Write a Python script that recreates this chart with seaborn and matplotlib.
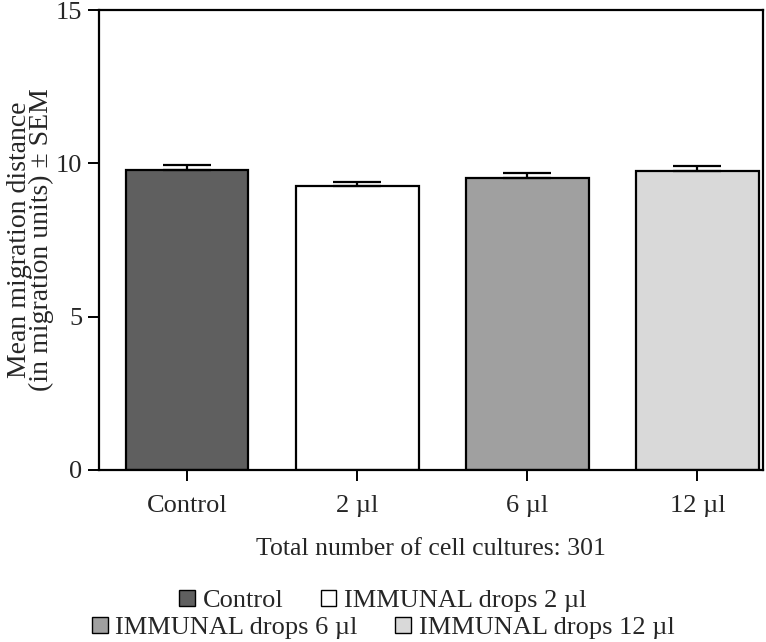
import numpy as np
import pandas as pd
import seaborn as sns
import matplotlib.pyplot as plt
from matplotlib.patches import Patch

# Данные
groups = ['Control', '2 µl', '6 µl', '12 µl']
means = [9.80, 9.25, 9.52, 9.76]
sems = [0.15, 0.14, 0.16, 0.16]
colors = ['#5f5f5f', '#ffffff', '#a0a0a0', '#d9d9d9']
legend_labels = ['Control', 'IMMUNAL drops 2 µl',
                 'IMMUNAL drops 6 µl', 'IMMUNAL drops 12 µl']

df = pd.DataFrame({'group': groups, 'mean': means, 'sem': sems})

sns.set_theme(style='white')
plt.rcParams['font.family'] = ['Liberation Serif', 'DejaVu Serif']

fig = plt.figure(figsize=(7.66, 6.42), dpi=100)
ax = fig.add_axes([0.129, 0.268, 0.867, 0.716])

sns.barplot(data=df, x='group', y='mean', hue='group', palette=colors,
            legend=False, errorbar=None, width=0.72,
            edgecolor='black', linewidth=1.6, ax=ax)

# Только верхние усы ошибок
ax.errorbar(np.arange(len(groups)), means,
            yerr=[np.zeros(len(sems)), sems], fmt='none',
            ecolor='black', elinewidth=1.6, capsize=17, capthick=1.6)

ax.set_xlim(-0.52, 3.385)
ax.set_ylim(0, 15)
ax.set_yticks([0, 5, 10, 15])
ax.set_xlabel('Total number of cell cultures: 301', fontsize=18.5, labelpad=15)
ax.set_ylabel('Mean migration distance\n(in migration units) ± SEM',
              fontsize=20, linespacing=0.8)
ax.yaxis.set_label_coords(-0.068, 0.5)
ax.tick_params(axis='both', which='major', labelsize=19, direction='out',
               length=8, width=1.4, color='black', pad=4,
               bottom=True, left=True)
ax.tick_params(axis='x', pad=10)
for side in ['left', 'right', 'top', 'bottom']:
    ax.spines[side].set_visible(True)
    ax.spines[side].set_color('black')
    ax.spines[side].set_linewidth(1.6)

handles = [Patch(facecolor=c, edgecolor='black', linewidth=1.0) for c in colors]
kw = dict(frameon=False, fontsize=19, ncol=2, handlelength=0.6,
          handleheight=0.6, handletextpad=0.3, columnspacing=1.4,
          borderaxespad=0, loc='center')
leg1 = fig.legend(handles[:2], legend_labels[:2],
                  bbox_to_anchor=(0.5, 1 - 601 / 642), **kw)
leg2 = fig.legend(handles[2:], legend_labels[2:],
                  bbox_to_anchor=(0.5, 1 - 628 / 642), **kw)

fig.savefig('out.png', dpi=100)
